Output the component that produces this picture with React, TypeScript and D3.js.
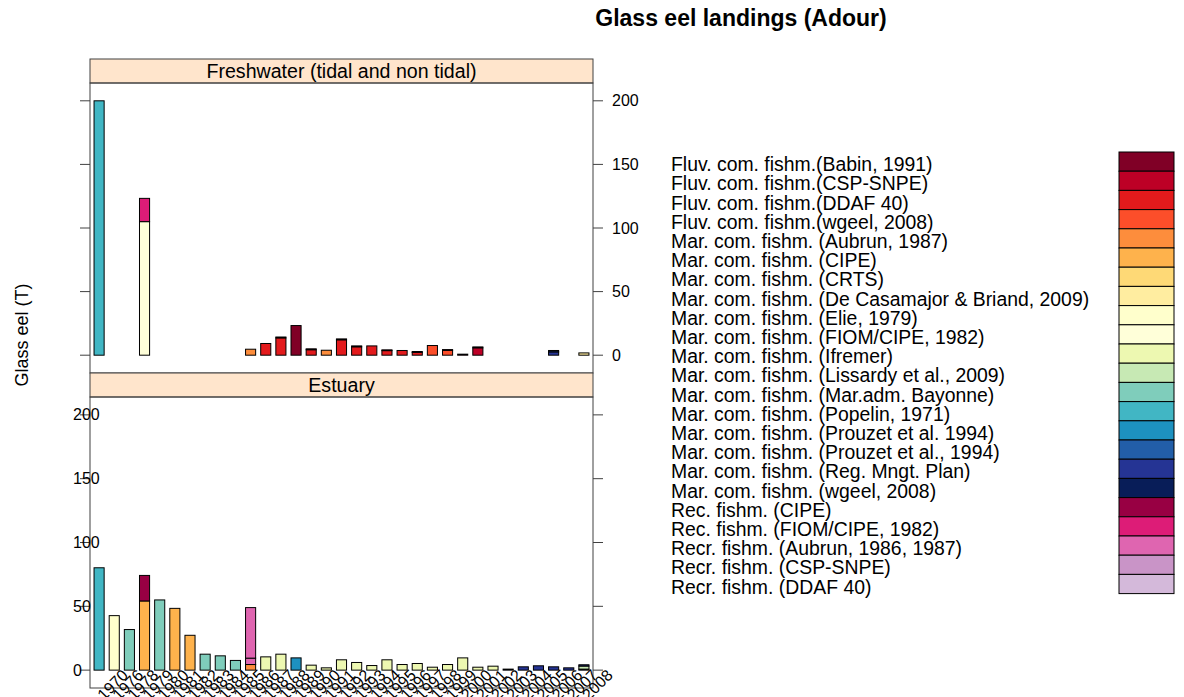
import React from "react";
import * as d3 from "d3";

const years = ["1970", "1976", "1978", "1979", "1980", "1981", "1982", "1983", "1984", "1985", "1986", "1987", "1988", "1989", "1990", "1991", "1992", "1993", "1994", "1995", "1996", "1997", "1998", "1999", "2000", "2001", "2002", "2003", "2004", "2005", "2006", "2007", "2008"];

const seriesNames = [
  "Fluv. com. fishm.(Babin, 1991)",
  "Fluv. com. fishm.(CSP-SNPE)",
  "Fluv. com. fishm.(DDAF 40)",
  "Fluv. com. fishm.(wgeel, 2008)",
  "Mar. com. fishm. (Aubrun, 1987)",
  "Mar. com. fishm. (CIPE)",
  "Mar. com. fishm. (CRTS)",
  "Mar. com. fishm. (De Casamajor & Briand, 2009)",
  "Mar. com. fishm. (Elie, 1979)",
  "Mar. com. fishm. (FIOM/CIPE, 1982)",
  "Mar. com. fishm. (Ifremer)",
  "Mar. com. fishm. (Lissardy et al., 2009)",
  "Mar. com. fishm. (Mar.adm. Bayonne)",
  "Mar. com. fishm. (Popelin, 1971)",
  "Mar. com. fishm. (Prouzet et al. 1994)",
  "Mar. com. fishm. (Prouzet et al., 1994)",
  "Mar. com. fishm. (Reg. Mngt. Plan)",
  "Mar. com. fishm. (wgeel, 2008)",
  "Rec. fishm. (CIPE)",
  "Rec. fishm. (FIOM/CIPE, 1982)",
  "Recr. fishm. (Aubrun, 1986, 1987)",
  "Recr. fishm. (CSP-SNPE)",
  "Recr. fishm. (DDAF 40)",
];

const seriesColors = [
  "#800026", "#BD0026", "#E31A1C", "#FC4E2A", "#FD8D3C", "#FEB24C", "#FED976", "#FFEDA0", "#FFFFCC",
  "#FFFFD9", "#EDF8B1", "#C7E9B4", "#7FCDBB", "#41B6C4", "#1D91C0", "#225EA8", "#253494", "#081D58",
  "#980043", "#DD1C77", "#DF65B0", "#C994C7", "#D4B9DA",
];

const yTicks = [0, 50, 100, 150, 200];

// [year, series index, value] stacked in listed order
const freshwaterSegments: [string, number, number][] = [
  ["1970", 13, 200],
  ["1979", 9, 105], ["1979", 19, 18.3],
  ["1986", 4, 4.7],
  ["1987", 2, 9.2],
  ["1988", 2, 13.6], ["1988", 0, 0.7],
  ["1989", 0, 23.3],
  ["1990", 2, 4.3], ["1990", 0, 0.7],
  ["1991", 4, 3.9],
  ["1992", 2, 12.1], ["1992", 0, 0.7],
  ["1993", 2, 6.6], ["1993", 0, 0.7],
  ["1994", 2, 7.3],
  ["1995", 2, 3.6], ["1995", 0, 0.6],
  ["1996", 2, 3.7],
  ["1997", 2, 2.2], ["1997", 0, 0.7],
  ["1998", 3, 7.6],
  ["1999", 3, 3.8], ["1999", 0, 0.6],
  ["2000", 0, 0.8],
  ["2001", 1, 5.8], ["2001", 0, 0.7],
  ["2006", 16, 2.6], ["2006", 17, 1.1],
  ["2008", 7, 1.8],
];

const estuarySegments: [string, number, number][] = [
  ["1970", 13, 80.2],
  ["1976", 8, 42.7],
  ["1978", 12, 31.8],
  ["1979", 5, 54.2], ["1979", 18, 20.0],
  ["1980", 12, 55.0],
  ["1981", 5, 48.4],
  ["1982", 5, 27.3],
  ["1983", 12, 12.5],
  ["1984", 12, 11.2],
  ["1985", 12, 7.6],
  ["1986", 4, 4.4], ["1986", 20, 5.0], ["1986", 20, 39.6],
  ["1987", 10, 10.4],
  ["1988", 10, 12.5],
  ["1989", 14, 9.6],
  ["1990", 10, 3.9],
  ["1991", 10, 1.8],
  ["1992", 10, 8.1],
  ["1993", 10, 6.0],
  ["1994", 10, 3.6],
  ["1995", 10, 8.1],
  ["1996", 10, 4.4],
  ["1997", 10, 5.2],
  ["1998", 10, 2.3],
  ["1999", 10, 4.4],
  ["2000", 10, 9.6],
  ["2001", 10, 2.3],
  ["2002", 10, 3.1],
  ["2003", 17, 0.8],
  ["2004", 16, 2.6],
  ["2005", 16, 3.4],
  ["2006", 16, 2.6],
  ["2007", 16, 1.8],
  ["2008", 17, 0.8], ["2008", 11, 2.4], ["2008", 16, 1.0],
];

const FONT = "'Liberation Sans', Arial, Helvetica, sans-serif";
const W = 1184;
const H = 697;
const X0 = 90;
const X1 = 593;
const STRIP_H = 24;
const AXIS_COL = "#404040";

const x = d3.scalePoint<string>().domain(years).range([X0, X1]).padding(0.6);
const barW = (x.step() * 2) / 3;

function stack(segs: [string, number, number][]) {
  const base: Record<string, number> = {};
  return segs.map(([yr, s, v]) => {
    const y0 = base[yr] || 0;
    base[yr] = y0 + v;
    return { yr, s, y0, y1: y0 + v };
  });
}

function Panel({ top, bottom, label, segs, labelSide }: { top: number; bottom: number; label: string; segs: [string, number, number][]; labelSide: "left" | "right" }) {
  const y = d3.scaleLinear().domain([-14, 214]).range([bottom, top + STRIP_H]);
  const rects = stack(segs);
  const stripTop = top;
  return (
    <g>
      <rect x={X0} y={stripTop} width={X1 - X0} height={STRIP_H} fill="#FFE5CC" stroke={AXIS_COL} strokeWidth={1} />
      <text x={(X0 + X1) / 2} y={stripTop + STRIP_H / 2 + 6.5} textAnchor="middle" fontSize={19.6} fontFamily={FONT} fill="#000">{label}</text>
      <rect x={X0} y={top + STRIP_H} width={X1 - X0} height={bottom - top - STRIP_H} fill="none" stroke={AXIS_COL} strokeWidth={1} />
      {yTicks.map((t) => (
        <g key={t}>
          <line x1={X0 - 10} x2={X0} y1={y(t)} y2={y(t)} stroke={AXIS_COL} />
          <line x1={X1} x2={X1 + 10} y1={y(t)} y2={y(t)} stroke={AXIS_COL} />
          {labelSide === "right" ? (
            <text x={X1 + 19} y={y(t) + 5.5} fontSize={16} fontFamily={FONT}>{t}</text>
          ) : (
            <text x={73} y={y(t) + 5.5} fontSize={16} fontFamily={FONT}>{t}</text>
          )}
        </g>
      ))}
      {rects.map((r, i) => (
        <rect key={i} x={(x(r.yr) as number) - barW / 2} y={y(r.y1)} width={barW} height={Math.max(0, y(r.y0) - y(r.y1))} fill={seriesColors[r.s]} stroke="#000" strokeWidth={1} />
      ))}
    </g>
  );
}

export default function App() {
  const cellH = 19.2;
  const cbTop = 152;
  const yBottom = d3.scaleLinear().domain([-14, 214]).range([688, 397]);
  return (
    <svg width={W} height={H} style={{ display: "block", position: "absolute", left: 0, top: 0 }}>
      <rect width={W} height={H} fill="#fff" />
      <text x={741} y={26} textAnchor="middle" fontSize={23} fontWeight="bold" fontFamily={FONT}>Glass eel landings (Adour)</text>
      <text transform="translate(28,335) rotate(-90)" textAnchor="middle" fontSize={18} fontFamily={FONT}>Glass eel (T)</text>
      <Panel top={59} bottom={373} label="Freshwater (tidal and non tidal)" segs={freshwaterSegments} labelSide="right" />
      <Panel top={373} bottom={688} label="Estuary" segs={estuarySegments} labelSide="left" />
      {years.map((yr) => (
        <text key={yr} transform={`translate(${(x(yr) as number) + 30},${yBottom(0) + 6}) rotate(-45)`} textAnchor="end" fontSize={16} fontFamily={FONT}>{yr}</text>
      ))}
      {seriesNames.map((n, i) => (
        <g key={n}>
          <text x={671} y={cbTop + cellH * i + cellH / 2 + 9.5} fontSize={19.4} fontFamily={FONT}>{n}</text>
          <rect x={1119} y={cbTop + cellH * i} width={55} height={cellH} fill={seriesColors[i]} stroke="#000" strokeWidth={1} />
        </g>
      ))}
    </svg>
  );
}
